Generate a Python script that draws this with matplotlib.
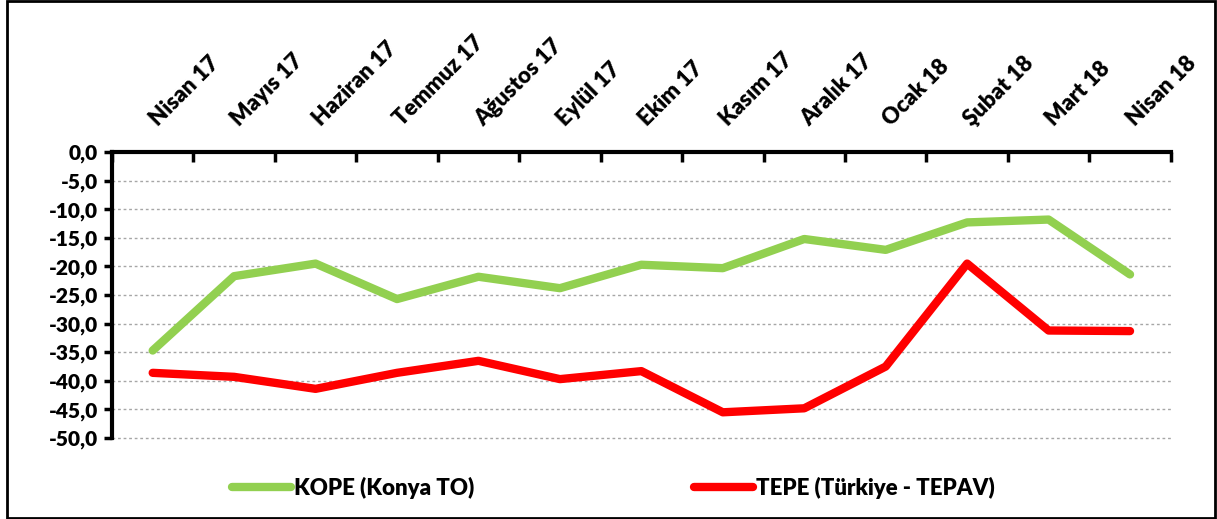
"""Konya TO vs TEPAV expectation index, Nisan 17 - Nisan 18."""

import matplotlib
matplotlib.use('Agg')
import matplotlib.pyplot as plt
import matplotlib.transforms as mtransforms
from matplotlib.patches import Rectangle
from matplotlib.ticker import FixedLocator, FuncFormatter
import numpy as np

months = ['Nisan 17', 'Mayıs 17', 'Haziran 17', 'Temmuz 17', 'Ağustos 17',
          'Eylül 17', 'Ekim 17', 'Kasım 17', 'Aralık 17', 'Ocak 18',
          'Şubat 18', 'Mart 18', 'Nisan 18']
kope = [-34.7, -21.7, -19.5, -25.7, -21.8, -23.8, -19.7,
        -20.3, -15.2, -17.1, -12.3, -11.8, -21.4]
tepe = [-38.6, -39.3, -41.4, -38.6, -36.5, -39.7, -38.3,
        -45.5, -44.8, -37.5, -19.5, -31.2, -31.3]
yticks = np.arange(0, -55, -5)

plt.rcParams['font.family'] = ['Lato', 'DejaVu Sans']
plt.rcParams['font.weight'] = 'heavy'

fig = plt.figure(figsize=(12.17, 5.19), dpi=100)
ax = fig.add_axes([0.092, 0.156, 0.870, 0.551])

x = np.arange(len(months))
ax.plot(x, kope, color='#92d050', lw=6, solid_capstyle='round',
        solid_joinstyle='round', label='KOPE (Konya TO)')
ax.plot(x, tepe, color='#ff0000', lw=6, solid_capstyle='round',
        solid_joinstyle='round', label='TEPE (Türkiye - TEPAV)')

ax.set_xlim(-0.5, len(months) - 0.5)
ax.set_ylim(-50, 0)

# y axis
ax.set_yticks(yticks)
ax.yaxis.set_major_formatter(FuncFormatter(lambda v, p: f'{v:.1f}'.replace('.', ',')))
ax.tick_params(axis='y', direction='out', length=6, width=2.5,
               labelsize=15, pad=4)
ax.grid(axis='y', color='#a6a6a6', linestyle=(0, (2, 2)), lw=1)
for gl in ax.get_ygridlines():
    gl.set_clip_on(False)

# x axis on top, labels between the ticks
ax.xaxis.tick_top()
ax.set_xticks(x)
ax.set_xticklabels(months, rotation=45, ha='left', va='bottom',
                   rotation_mode='anchor', fontsize=16)
ax.xaxis.set_minor_locator(FixedLocator(np.arange(-0.5, len(months), 1)))
ax.tick_params(axis='x', which='major', length=0, pad=16)
ax.tick_params(axis='x', which='minor', direction='in', length=7, width=2.5)
shift = mtransforms.ScaledTranslation(8 / 100, 0, fig.dpi_scale_trans)
for lab in ax.get_xticklabels():
    lab.set_transform(lab.get_transform() + shift)

for side in ['right', 'bottom']:
    ax.spines[side].set_visible(False)
for side in ['left', 'top']:
    ax.spines[side].set_linewidth(3)

fig.legend(loc='center left', bbox_to_anchor=(0.174, 0.06), ncol=2,
           frameon=False, fontsize=16, handlelength=2.65, handletextpad=0.15,
           columnspacing=9.9)

fig.patches.append(Rectangle((0.006, 0.002), 0.992, 0.996,
                             transform=fig.transFigure, fill=False,
                             edgecolor='black', lw=2))

fig.savefig('out.png', dpi=100)
